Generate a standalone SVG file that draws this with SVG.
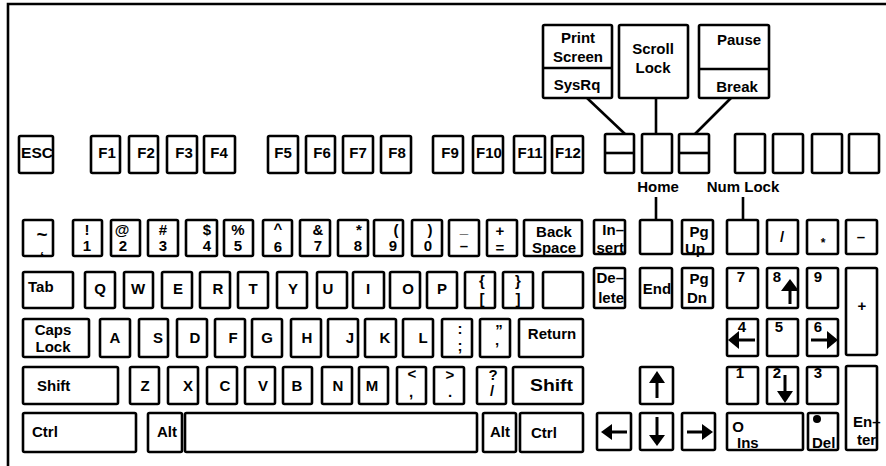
<svg xmlns="http://www.w3.org/2000/svg" width="886" height="466" viewBox="0 0 886 466">
<style>
.k{fill:#fff;stroke:#000;stroke-width:2.6}
.d{stroke:#000;stroke-width:2.6;fill:none}
.c{stroke:#000;stroke-width:2.6;fill:none}
text{font-family:"Liberation Sans",Arial,Helvetica,sans-serif;font-weight:bold;font-size:15px;fill:#000}
.m{text-anchor:middle}
.e{text-anchor:end}
.a{fill:#000;stroke:none}
.as{stroke:#000;stroke-width:3;fill:none}
</style>
<rect width="886" height="466" fill="#fff"/>
<g id="frame"><path class="c" d="M8,466 V4 H886"/></g>

<g id="connectors">
<line class="c" x1="587" y1="98" x2="625" y2="134"/>
<line class="c" x1="656" y1="98" x2="656" y2="134"/>
<line class="c" x1="731" y1="98" x2="695" y2="134"/>
<line class="c" x1="656" y1="197" x2="656" y2="221"/>
<line class="c" x1="743" y1="197" x2="743" y2="221"/>
</g>

<g id="k-prtsc"><rect class="k" x="543" y="25" width="69" height="73" rx="1.5"/><line class="d" x1="543" y1="68" x2="612" y2="68"/><text class="m" x="578" y="43">Print</text><text class="m" x="578" y="62">Screen</text><text class="m" x="577" y="90">SysRq</text></g>
<g id="k-scroll"><rect class="k" x="619" y="25" width="69" height="73" rx="1.5"/><text class="m" x="653" y="54">Scroll</text><text class="m" x="653" y="73">Lock</text></g>
<g id="k-pause"><rect class="k" x="699" y="25" width="70" height="73" rx="1.5"/><line class="d" x1="699" y1="69" x2="769" y2="69"/><text class="m" x="739" y="45">Pause</text><text class="m" x="737" y="92">Break</text></g>

<g id="k-esc"><rect class="k" x="19" y="136" width="34" height="37" rx="1.5"/><text x="21" y="158" textLength="32" lengthAdjust="spacingAndGlyphs">ESC</text></g>
<g id="k-f1"><rect class="k" x="91" y="136" width="29" height="37" rx="1.5"/><text class="m" x="107" y="158">F1</text></g>
<g id="k-f2"><rect class="k" x="129" y="136" width="29" height="37" rx="1.5"/><text class="m" x="146" y="158">F2</text></g>
<g id="k-f3"><rect class="k" x="167" y="136" width="30" height="37" rx="1.5"/><text class="m" x="184" y="158">F3</text></g>
<g id="k-f4"><rect class="k" x="204" y="136" width="31" height="37" rx="1.5"/><text class="m" x="219" y="158">F4</text></g>
<g id="k-f5"><rect class="k" x="268" y="136" width="30" height="37" rx="1.5"/><text class="m" x="283" y="158">F5</text></g>
<g id="k-f6"><rect class="k" x="306" y="136" width="29" height="37" rx="1.5"/><text class="m" x="322" y="158">F6</text></g>
<g id="k-f7"><rect class="k" x="343" y="136" width="30" height="37" rx="1.5"/><text class="m" x="358" y="158">F7</text></g>
<g id="k-f8"><rect class="k" x="381" y="136" width="30" height="37" rx="1.5"/><text class="m" x="397" y="158">F8</text></g>
<g id="k-f9"><rect class="k" x="433" y="136" width="30" height="37" rx="1.5"/><text class="m" x="450" y="158">F9</text></g>
<g id="k-f10"><rect class="k" x="473" y="136" width="30" height="37" rx="1.5"/><text class="m" x="489" y="158">F10</text></g>
<g id="k-f11"><rect class="k" x="514" y="136" width="31" height="37" rx="1.5"/><text class="m" x="530" y="158">F11</text></g>
<g id="k-f12"><rect class="k" x="552" y="136" width="31" height="37" rx="1.5"/><text class="m" x="568" y="158">F12</text></g>

<g id="k-nav1"><rect class="k" x="605" y="134" width="29" height="39" rx="1.5"/><line class="d" x1="605" y1="153" x2="634" y2="153"/></g>
<g id="k-nav2"><rect class="k" x="642" y="134" width="30" height="39" rx="1.5"/></g>
<g id="k-nav3"><rect class="k" x="679" y="134" width="30" height="39" rx="1.5"/><line class="d" x1="679" y1="153" x2="709" y2="153"/></g>
<g id="k-nav4"><rect class="k" x="735" y="134" width="30" height="39" rx="1.5"/></g>
<g id="k-nav5"><rect class="k" x="773" y="134" width="30" height="39" rx="1.5"/></g>
<g id="k-nav6"><rect class="k" x="812" y="134" width="30" height="39" rx="1.5"/></g>
<g id="k-nav7"><rect class="k" x="849" y="134" width="30" height="39" rx="1.5"/></g>
<g id="lbl-home"><text class="m" x="658" y="192">Home</text></g>
<g id="lbl-numlock"><text class="m" x="743" y="192">Num Lock</text></g>

<g id="k-tilde"><rect class="k" x="23" y="220" width="30" height="36" rx="1.5"/><text class="m" x="42" y="241" style="font-size:19px">~</text><text class="m" x="42" y="262">‘</text></g>
<g id="k-1"><rect class="k" x="73" y="220" width="29" height="36" rx="1.5"/><text class="m" x="87" y="235">!</text><text class="m" x="87" y="251">1</text></g>
<g id="k-2"><rect class="k" x="111" y="220" width="29" height="36" rx="1.5"/><text class="m" x="122" y="235">@</text><text class="m" x="123" y="251">2</text></g>
<g id="k-3"><rect class="k" x="148" y="220" width="30" height="36" rx="1.5"/><text class="m" x="163" y="235">#</text><text class="m" x="163" y="251">3</text></g>
<g id="k-4"><rect class="k" x="186" y="220" width="31" height="36" rx="1.5"/><text class="m" x="207" y="235">$</text><text class="m" x="207" y="251">4</text></g>
<g id="k-5"><rect class="k" x="224" y="220" width="29" height="36" rx="1.5"/><text class="m" x="238" y="235">%</text><text class="m" x="238" y="251">5</text></g>
<g id="k-6"><rect class="k" x="263" y="220" width="29" height="36" rx="1.5"/><text class="m" x="278" y="234">^</text><text class="m" x="278" y="252">6</text></g>
<g id="k-7"><rect class="k" x="300" y="220" width="30" height="36" rx="1.5"/><text class="m" x="318" y="235">&amp;</text><text class="m" x="318" y="251">7</text></g>
<g id="k-8"><rect class="k" x="338" y="220" width="30" height="36" rx="1.5"/><text class="m" x="359" y="235">*</text><text class="m" x="358" y="251">8</text></g>
<g id="k-9"><rect class="k" x="374" y="220" width="29" height="36" rx="1.5"/><text class="m" x="396" y="235">(</text><text class="m" x="393" y="251">9</text></g>
<g id="k-0"><rect class="k" x="412" y="220" width="30" height="36" rx="1.5"/><text class="m" x="430" y="235">)</text><text class="m" x="428" y="251">0</text></g>
<g id="k-minus"><rect class="k" x="449" y="220" width="30" height="36" rx="1.5"/><text class="m" x="464" y="233">_</text><text class="m" x="464" y="251">–</text></g>
<g id="k-equal"><rect class="k" x="487" y="220" width="30" height="36" rx="1.5"/><text class="m" x="500" y="236">+</text><text class="m" x="500" y="253">=</text></g>
<g id="k-bksp"><rect class="k" x="524" y="220" width="58" height="36" rx="1.5"/><text class="m" x="554" y="237">Back</text><text class="m" x="554" y="253">Space</text></g>

<g id="k-ins"><rect class="k" x="594" y="220" width="31" height="34" rx="1.5"/><text class="e" x="624" y="235">In–</text><text class="e" x="624" y="253">sert</text></g>
<g id="k-home"><rect class="k" x="640" y="220" width="32" height="34" rx="1.5"/></g>
<g id="k-pgup"><rect class="k" x="682" y="220" width="31" height="34" rx="1.5"/><text class="m" x="699" y="237">Pg</text><text class="m" x="695" y="254">Up</text></g>
<g id="k-numlock"><rect class="k" x="727" y="220" width="31" height="34" rx="1.5"/></g>
<g id="k-div"><rect class="k" x="767" y="220" width="31" height="34" rx="1.5"/><text class="m" x="782" y="242">/</text></g>
<g id="k-mul"><rect class="k" x="807" y="220" width="31" height="34" rx="1.5"/><text class="m" x="823" y="247" style="font-size:12px">*</text></g>
<g id="k-sub"><rect class="k" x="846" y="220" width="31" height="34" rx="1.5"/><text class="m" x="861" y="242">–</text></g>

<g id="k-tab"><rect class="k" x="23" y="272" width="50" height="36" rx="1.5"/><text x="28" y="292">Tab</text></g>
<g id="k-q"><rect class="k" x="85" y="272" width="30" height="36" rx="1.5"/><text class="m" x="100" y="294">Q</text></g>
<g id="k-w"><rect class="k" x="124" y="272" width="29" height="36" rx="1.5"/><text class="m" x="138" y="294">W</text></g>
<g id="k-e"><rect class="k" x="162" y="272" width="30" height="36" rx="1.5"/><text class="m" x="178" y="294">E</text></g>
<g id="k-r"><rect class="k" x="200" y="272" width="30" height="36" rx="1.5"/><text class="m" x="218" y="294">R</text></g>
<g id="k-t"><rect class="k" x="238" y="272" width="30" height="36" rx="1.5"/><text class="m" x="253" y="294">T</text></g>
<g id="k-y"><rect class="k" x="277" y="272" width="30" height="36" rx="1.5"/><text class="m" x="293" y="294">Y</text></g>
<g id="k-u"><rect class="k" x="317" y="272" width="30" height="36" rx="1.5"/><text class="m" x="328" y="294">U</text></g>
<g id="k-i"><rect class="k" x="353" y="272" width="31" height="36" rx="1.5"/><text class="m" x="368" y="294">I</text></g>
<g id="k-o"><rect class="k" x="390" y="272" width="30" height="36" rx="1.5"/><text class="m" x="408" y="294">O</text></g>
<g id="k-p"><rect class="k" x="427" y="272" width="30" height="36" rx="1.5"/><text class="m" x="442" y="294">P</text></g>
<g id="k-lbr"><rect class="k" x="465" y="272" width="30" height="36" rx="1.5"/><text class="m" x="482" y="286">{</text><text class="m" x="482" y="304">[</text></g>
<g id="k-rbr"><rect class="k" x="503" y="272" width="30" height="36" rx="1.5"/><text class="m" x="518" y="286">}</text><text class="m" x="518" y="304">]</text></g>
<g id="k-blank"><rect class="k" x="543" y="272" width="40" height="36" rx="1.5"/></g>

<g id="k-del"><rect class="k" x="594" y="268" width="31" height="40" rx="1.5"/><text class="e" x="624" y="283">De–</text><text class="e" x="624" y="303">lete</text></g>
<g id="k-end"><rect class="k" x="640" y="268" width="32" height="40" rx="1.5"/><text class="m" x="657" y="294">End</text></g>
<g id="k-pgdn"><rect class="k" x="682" y="268" width="31" height="40" rx="1.5"/><text class="m" x="699" y="284">Pg</text><text class="m" x="697" y="303">Dn</text></g>
<g id="k-n7"><rect class="k" x="727" y="268" width="31" height="40" rx="1.5"/><text class="m" x="741" y="282">7</text></g>
<g id="k-n8"><rect class="k" x="767" y="268" width="31" height="40" rx="1.5"/><text class="m" x="777" y="282">8</text><line class="as" x1="790" y1="290" x2="790" y2="304"/><path class="a" d="M790,279 L799,291 L781,291 Z"/></g>
<g id="k-n9"><rect class="k" x="807" y="268" width="31" height="40" rx="1.5"/><text class="m" x="818" y="282">9</text></g>
<g id="k-add"><rect class="k" x="846" y="268" width="31" height="87" rx="1.5"/><text class="m" x="862" y="311">+</text></g>

<g id="k-caps"><rect class="k" x="23" y="319" width="66" height="38" rx="1.5"/><text class="m" x="53" y="335">Caps</text><text class="m" x="53" y="352">Lock</text></g>
<g id="k-a"><rect class="k" x="100" y="319" width="30" height="38" rx="1.5"/><text class="m" x="115" y="343">A</text></g>
<g id="k-s"><rect class="k" x="139" y="319" width="29" height="38" rx="1.5"/><text class="m" x="158" y="343">S</text></g>
<g id="k-d"><rect class="k" x="177" y="319" width="30" height="38" rx="1.5"/><text class="m" x="195" y="343">D</text></g>
<g id="k-f"><rect class="k" x="215" y="319" width="30" height="38" rx="1.5"/><text class="m" x="233" y="343">F</text></g>
<g id="k-g"><rect class="k" x="252" y="319" width="30" height="38" rx="1.5"/><text class="m" x="267" y="343">G</text></g>
<g id="k-h"><rect class="k" x="291" y="319" width="30" height="38" rx="1.5"/><text class="m" x="307" y="343">H</text></g>
<g id="k-j"><rect class="k" x="328" y="319" width="30" height="38" rx="1.5"/><text class="m" x="350" y="343">J</text></g>
<g id="k-k"><rect class="k" x="365" y="319" width="31" height="38" rx="1.5"/><text class="m" x="385" y="343">K</text></g>
<g id="k-l"><rect class="k" x="403" y="319" width="30" height="38" rx="1.5"/><text class="m" x="423" y="343">L</text></g>
<g id="k-semi"><rect class="k" x="442" y="319" width="30" height="38" rx="1.5"/><text class="m" x="460" y="334">:</text><text class="m" x="460" y="351">;</text></g>
<g id="k-quote"><rect class="k" x="480" y="319" width="30" height="38" rx="1.5"/><text class="m" x="499" y="335">”</text><text class="m" x="497" y="353">’</text></g>
<g id="k-return"><rect class="k" x="519" y="319" width="64" height="38" rx="1.5"/><text class="m" x="552" y="339">Return</text></g>

<g id="k-n4"><rect class="k" x="727" y="319" width="31" height="37" rx="1.5"/><text class="m" x="742" y="332">4</text><line class="as" x1="737" y1="340" x2="755" y2="340"/><path class="a" d="M728,340 L739,331 L739,349 Z"/></g>
<g id="k-n5"><rect class="k" x="767" y="319" width="31" height="37" rx="1.5"/><text class="m" x="779" y="332">5</text></g>
<g id="k-n6"><rect class="k" x="807" y="319" width="31" height="37" rx="1.5"/><text class="m" x="818" y="332">6</text><line class="as" x1="811" y1="340" x2="829" y2="340"/><path class="a" d="M838,340 L827,331 L827,349 Z"/></g>

<g id="k-lshift"><rect class="k" x="23" y="367" width="95" height="37" rx="1.5"/><text x="37" y="391">Shift</text></g>
<g id="k-z"><rect class="k" x="130" y="367" width="29" height="37" rx="1.5"/><text class="m" x="145" y="391">Z</text></g>
<g id="k-x"><rect class="k" x="168" y="367" width="30" height="37" rx="1.5"/><text class="m" x="188" y="391">X</text></g>
<g id="k-c"><rect class="k" x="207" y="367" width="30" height="37" rx="1.5"/><text class="m" x="225" y="391">C</text></g>
<g id="k-v"><rect class="k" x="245" y="367" width="30" height="37" rx="1.5"/><text class="m" x="263" y="391">V</text></g>
<g id="k-b"><rect class="k" x="283" y="367" width="29" height="37" rx="1.5"/><text class="m" x="297" y="391">B</text></g>
<g id="k-n"><rect class="k" x="322" y="367" width="30" height="37" rx="1.5"/><text class="m" x="338" y="391">N</text></g>
<g id="k-m"><rect class="k" x="359" y="367" width="29" height="37" rx="1.5"/><text class="m" x="372" y="391">M</text></g>
<g id="k-comma"><rect class="k" x="397" y="367" width="29" height="37" rx="1.5"/><text class="m" x="412" y="379">&lt;</text><text class="m" x="411" y="397">,</text></g>
<g id="k-period"><rect class="k" x="434" y="367" width="30" height="37" rx="1.5"/><text class="m" x="450" y="380">&gt;</text><text class="m" x="450" y="397">.</text></g>
<g id="k-slash"><rect class="k" x="477" y="367" width="29" height="37" rx="1.5"/><text class="m" x="493" y="380">?</text><text class="m" x="492" y="396">/</text></g>
<g id="k-rshift"><rect class="k" x="513" y="367" width="70" height="37" rx="1.5"/><text x="530" y="391" style="font-size:16px" textLength="43" lengthAdjust="spacingAndGlyphs">Shift</text></g>

<g id="k-up"><rect class="k" x="640" y="367" width="33" height="37" rx="1.5"/><line class="as" x1="657" y1="381" x2="657" y2="398"/><path class="a" d="M657,371 L665,383 L649,383 Z"/></g>
<g id="k-n1"><rect class="k" x="727" y="367" width="31" height="37" rx="1.5"/><text class="m" x="740" y="378">1</text></g>
<g id="k-n2"><rect class="k" x="767" y="367" width="31" height="37" rx="1.5"/><text class="m" x="777" y="378">2</text><line class="as" x1="785" y1="375" x2="785" y2="393"/><path class="a" d="M785,403 L793,391 L777,391 Z"/></g>
<g id="k-n3"><rect class="k" x="807" y="367" width="31" height="37" rx="1.5"/><text class="m" x="818" y="378">3</text></g>
<g id="k-enter"><rect class="k" x="846" y="366" width="31" height="84" rx="1.5"/><text x="853" y="427">En–</text><text x="857" y="445">ter</text></g>

<g id="k-lctrl"><rect class="k" x="23" y="413" width="113" height="39" rx="1.5"/><text x="32" y="437">Ctrl</text></g>
<g id="k-lalt"><rect class="k" x="148" y="413" width="34" height="39" rx="1.5"/><text x="157" y="437">Alt</text></g>
<g id="k-space"><rect class="k" x="185" y="413" width="292" height="39" rx="1.5"/></g>
<g id="k-ralt"><rect class="k" x="483" y="413" width="33" height="39" rx="1.5"/><text x="490" y="437">Alt</text></g>
<g id="k-rctrl"><rect class="k" x="520" y="413" width="63" height="39" rx="1.5"/><text x="531" y="438">Ctrl</text></g>

<g id="k-left"><rect class="k" x="597" y="413" width="34" height="37" rx="1.5"/><line class="as" x1="610" y1="432" x2="627" y2="432"/><path class="a" d="M601,432 L612,424 L612,440 Z"/></g>
<g id="k-down"><rect class="k" x="640" y="413" width="33" height="37" rx="1.5"/><line class="as" x1="657" y1="417" x2="657" y2="437"/><path class="a" d="M657,446 L665,435 L649,435 Z"/></g>
<g id="k-right"><rect class="k" x="682" y="413" width="33" height="37" rx="1.5"/><line class="as" x1="687" y1="432" x2="704" y2="432"/><path class="a" d="M713,432 L702,424 L702,440 Z"/></g>
<g id="k-n0"><rect class="k" x="727" y="413" width="76" height="37" rx="1.5"/><text class="m" x="738" y="432">O</text><text x="737" y="448">Ins</text></g>
<g id="k-ndel"><rect class="k" x="808" y="413" width="30" height="37" rx="1.5"/><circle class="a" cx="817" cy="419" r="4"/><text x="812" y="448">Del</text></g>
</svg>
